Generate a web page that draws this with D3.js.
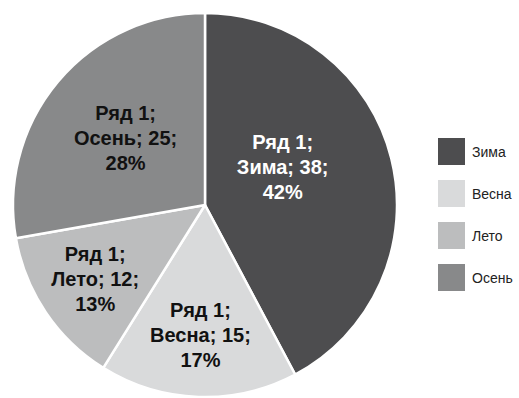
<!DOCTYPE html>
<html>
<head>
<meta charset="utf-8">
<script src="https://cdn.jsdelivr.net/npm/d3@7"></script>
<style>
  body { margin: 0; background: #fff; }
  svg { display: block; font-family: "Liberation Sans", Arial, sans-serif; }
</style>
</head>
<body>
<svg width="519" height="398"></svg>
<script>
var seriesName = "Ряд 1";
var categories = ["Зима", "Весна", "Лето", "Осень"];
var values = [38, 15, 12, 25];

var colors = ["#4d4d4f", "#d9dadb", "#bcbdbe", "#88898a"];
var textColors = ["#fff", "#111", "#111", "#111"];
// label placement (fraction of radius, angle tweak in degrees) - mimics "best fit"
var labelRadius = [0.45, 0.68, 0.69, 0.54];
var labelTurn = [-12, 0, 0, 0];

var svg = d3.select("svg"),
    cx = 205, cy = 205, r = 192;

var g = svg.append("g").attr("transform", "translate(" + cx + "," + cy + ")");

var total = d3.sum(values);
var data = categories.map(function(c, i) { return {cat: c, value: values[i], i: i}; });

var pie = d3.pie().sort(null).value(function(d) { return d.value; });
var arc = d3.arc().innerRadius(0).outerRadius(r);
var arcs = pie(data);

g.selectAll("path.slice")
    .data(arcs)
  .enter().append("path")
    .attr("class", "slice")
    .attr("d", arc)
    .attr("fill", function(d) { return colors[d.data.i]; })
    .attr("stroke", "#fff")
    .attr("stroke-width", 2.5)
    .attr("stroke-linejoin", "round");

var labels = g.selectAll("text.lbl")
    .data(arcs)
  .enter().append("text")
    .attr("class", "lbl")
    .attr("text-anchor", "middle")
    .attr("font-weight", "bold")
    .attr("font-size", 20)
    .attr("fill", function(d) { return textColors[d.data.i]; })
    .attr("transform", function(d) {
        var a = (d.startAngle + d.endAngle) / 2 + labelTurn[d.data.i] * Math.PI / 180;
        var rr = r * labelRadius[d.data.i];
        return "translate(" + (Math.sin(a) * rr) + "," + (-Math.cos(a) * rr) + ")";
    });

labels.each(function(d) {
    var pct = Math.round(d.data.value / total * 100) + "%";
    var lines = [seriesName + ";", d.data.cat + "; " + d.data.value + ";", pct];
    var t = d3.select(this);
    lines.forEach(function(s, k) {
        t.append("tspan")
            .attr("x", 0)
            .attr("y", (k - 1) * 25 + 7)
            .text(s);
    });
});

// legend
var legend = svg.append("g").attr("transform", "translate(438,138)");
var item = legend.selectAll("g")
    .data(categories)
  .enter().append("g")
    .attr("transform", function(d, i) { return "translate(0," + (i * 42) + ")"; });

item.append("rect")
    .attr("width", 27)
    .attr("height", 27)
    .attr("fill", function(d, i) { return colors[i]; });

item.append("text")
    .attr("x", 34)
    .attr("y", 18.5)
    .attr("font-size", 14)
    .attr("fill", "#222")
    .text(function(d) { return d; });
</script>
</body>
</html>
